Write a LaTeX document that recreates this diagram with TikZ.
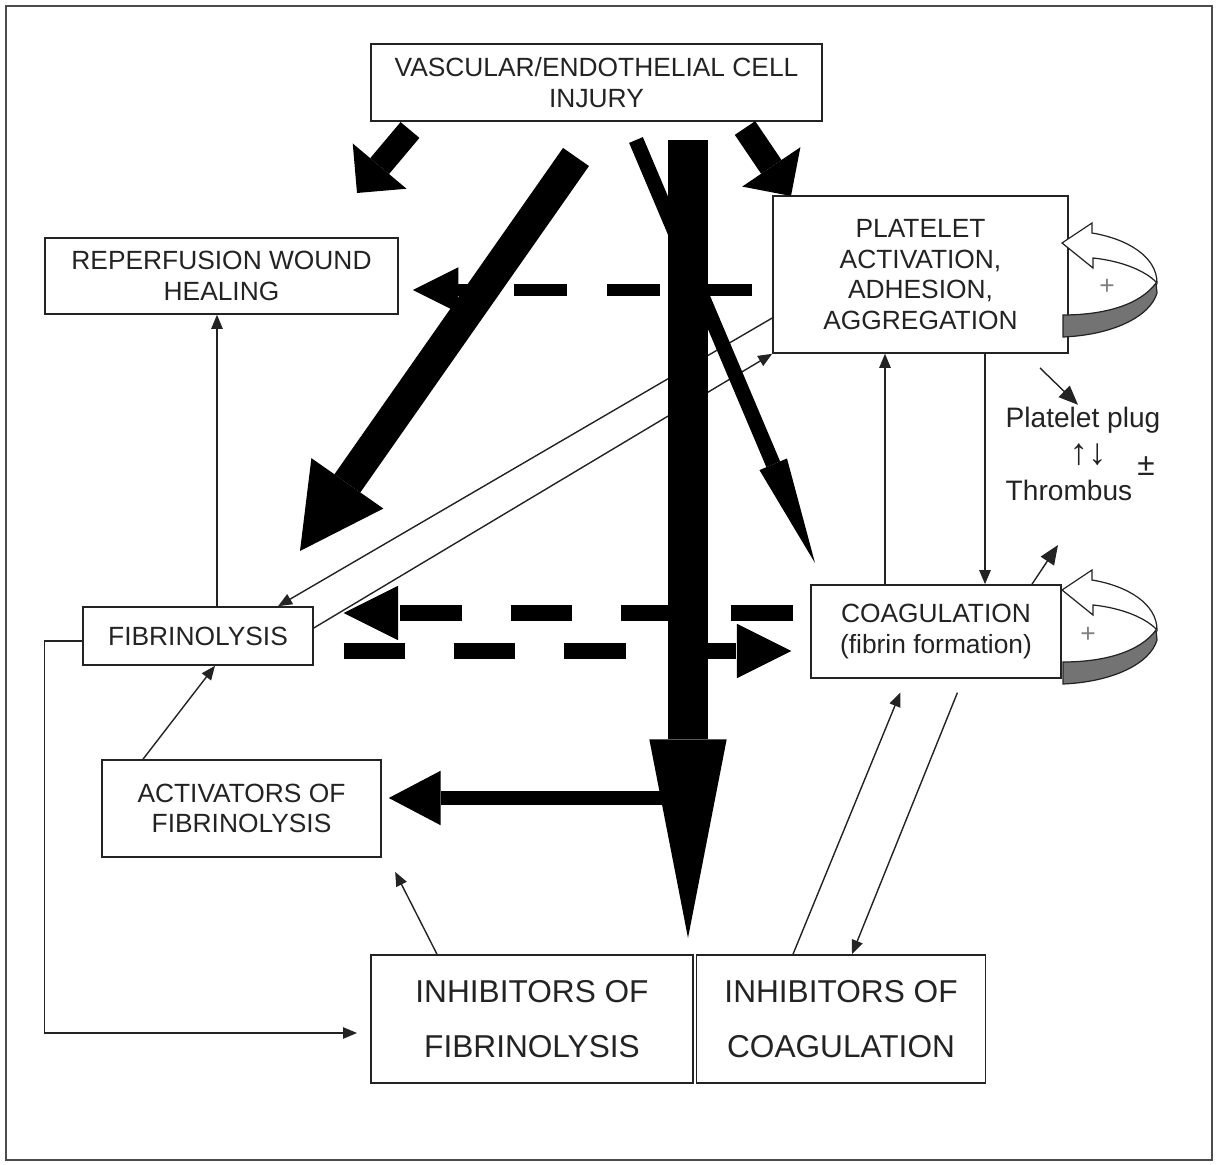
\documentclass[tikz,border=0pt]{standalone}
\usepackage{fontspec}
\setmainfont{Liberation Sans}
\usetikzlibrary{arrows.meta, positioning}
\definecolor{inkgray}{RGB}{35,35,35}
\definecolor{ribbongray}{RGB}{115,115,115}
\tikzset{
box/.style={draw=inkgray, line width=0.9pt, inner sep=0pt, align=center, text=inkgray, font=\fontsize{15}{17.5}\selectfont}, % every framed box
bigbox/.style={box, font=\fontsize{18}{31}\selectfont}, % the two inhibitor boxes
note/.style={inner sep=1pt, text=inkgray, font=\fontsize{16}{18}\selectfont}, % platelet plug / thrombus
thin arrow/.style={draw=inkgray, line width=0.8pt, -{Triangle[length=8pt,width=6.5pt]}},
plug arrow/.style={draw=inkgray, line width=0.8pt, -{Triangle[length=11pt,width=9pt]}},
fat arrow/.style={line width=14pt, -{Triangle[length=20pt,width=40pt,line width=0pt]}}, % short chunky arrows under the injury box
diag arrow/.style={line width=18pt, -{Triangle[length=47pt,width=50pt,line width=0pt]}},
shaft arrow/.style={line width=22.7pt, -{Triangle[length=113pt,width=44pt,line width=0pt]}},
slim arrow/.style={line width=8.5pt, -{Triangle[length=61pt,width=17pt,line width=0pt]}},
branch arrow/.style={line width=8.5pt, -{Triangle[length=29.5pt,width=31pt,line width=0pt]}},
dash bar/.style={line width=9pt, dash pattern=on 35pt off 27.8pt, -{Triangle[length=31pt,width=31pt,line width=0pt]}},
top dash bar/.style={line width=7pt, dash pattern=on 30pt off 22.7pt, -{Triangle[length=26pt,width=26pt,line width=0pt]}},
pics/pluscycle/.style={code={
  \filldraw[fill=ribbongray, draw=inkgray, line width=0.7pt] (94,40) .. controls (78,62) and (42,72) .. (1,72) -- (1,94) .. controls (50,92) and (88,74) .. (95,50) -- cycle;
  \filldraw[fill=white, draw=inkgray, line width=0.7pt] (0,0) -- (30,-20) -- (30,-10) .. controls (66,-4) and (95,14) .. (95,40) .. controls (84,28) and (60,18) .. (31,15) -- (31,25) -- cycle;
}},
}

\begin{document}
\begin{tikzpicture}[x=0.02cm, y=-0.02cm]
\useasboundingbox (0,0) rectangle (1218,1165);
\draw[gray!60!black, line width=0.6pt] (6,6) rectangle (1212,1160);

% boxes
\node[box, minimum width=9.02cm, minimum height=1.54cm] (injury) at (596.5,82.5) {VASCULAR/ENDOTHELIAL CELL\\INJURY};
\node[box, minimum width=7.06cm, minimum height=1.52cm] (reper) at (221.5,276) {REPERFUSION WOUND\\HEALING};
\node[box, minimum width=5.9cm, minimum height=3.14cm] (platelet) at (920.5,274.5) {PLATELET\\ACTIVATION,\\ADHESION,\\AGGREGATION};
\node[box, minimum width=4.6cm, minimum height=1.16cm] (fibrin) at (198,636) {FIBRINOLYSIS};
\node[box, minimum width=5.0cm, minimum height=1.86cm] (coag) at (936,631.5) {COAGULATION\\(fibrin formation)};
\node[box, minimum width=5.58cm, minimum height=1.94cm] (activ) at (241.5,808.5) {ACTIVATORS OF\\FIBRINOLYSIS};
\node[bigbox, minimum width=6.44cm, minimum height=2.56cm] (inhfib) at (532,1019) {INHIBITORS OF\\FIBRINOLYSIS};
\node[bigbox, minimum width=5.78cm, minimum height=2.56cm, right=0.04cm of inhfib] (inhcoag) {INHIBITORS OF\\COAGULATION};

% platelet plug / thrombus
\node[note] (plug) at (1083,420) {Platelet plug};
\node[note, font=\fontsize{21}{21}\selectfont] (swap) at (1088,455) {↑↓};
\node[note] (thromb) at (1069,490) {Thrombus};
\node[note, font=\fontsize{18}{18}\selectfont] (pm) at (1146,466) {±};
\coordinate (plugtail) at (1040,368);
\coordinate (thrombtip) at (1058,545);

% thin connectors
\draw[thin arrow] (fibrin.north -| 217,0) -- (reper.south -| 217,0);
\draw[thin arrow] (platelet.west |- 0,318) -- (fibrin.north -| 278,0);
\draw[thin arrow] (fibrin.east |- 0,628) -- (platelet.south west);
\draw[thin arrow] (platelet.south -| 985,0) -- (coag.north -| 985,0);
\draw[thin arrow] (coag.north -| 885,0) -- (platelet.south -| 885,0);
\draw[plug arrow] (plugtail) -- (plug.north -| 1078,0);
\draw[plug arrow] (coag.north -| 1032,0) -- (thrombtip);
\draw[thin arrow, shorten >=8.5pt] (inhcoag.north -| 793,0) -- (coag.south -| 906,0);
\draw[thin arrow, shorten <=8.5pt] (coag.south -| 963,0) -- (inhcoag.north -| 852,0);
\draw[thin arrow, shorten >=9pt] (inhfib.north -| 437,0) -- (activ.south -| 388,0);
\draw[thin arrow] (activ.north -| 143,0) -- (fibrin.south -| 215,0);
\draw[thin arrow, shorten >=7.5pt] (fibrin.west |- 0,641) -- ++(-38,0) |- (inhfib.west |- 0,1033);

% dashed bars
\draw[top dash bar, shorten <=11.3pt, shorten >=8pt] (platelet.west |- 0,290) -- (reper.east |- 0,290);
\draw[dash bar, shorten <=10pt, shorten >=17pt] (coag.west |- 0,613) -- (fibrin.east |- 0,613);
\draw[dash bar, shorten <=17pt, shorten >=10.8pt] (fibrin.east |- 0,651) -- (coag.west |- 0,651);

% thick arrows
\coordinate (lefttail) at (410,130);
\coordinate (lefthead) at (357,193);
\coordinate (righttail) at (745,128);
\coordinate (righthead) at (791,196);
\coordinate (diagtail) at (576,157);
\coordinate (diaghead) at (300,551);
\coordinate (slimtail) at (636,140);
\coordinate (slimhead) at (815,563);
\coordinate (shafttail) at (688,140);
\coordinate (shafthead) at (688,938);
\coordinate (branch) at (688,798);
\draw[fat arrow] (lefttail) -- (lefthead);
\draw[fat arrow] (righttail) -- (righthead);
\draw[diag arrow] (diagtail) -- (diaghead);
\draw[slim arrow] (slimtail) -- (slimhead);
\draw[shaft arrow] (shafttail) -- (shafthead);
\draw[branch arrow, shorten >=4pt] (branch) -- (activ.east |- branch);

% self-amplifying loops
\pic at (1062,243) {pluscycle};
\pic at (1062,590) {pluscycle};
\node[text=gray, font=\fontsize{15}{15}\selectfont] (pplus) at (1107,287) {+};
\node[text=gray, font=\fontsize{15}{15}\selectfont] (cplus) at (1088,635) {+};
\end{tikzpicture}
\end{document}
